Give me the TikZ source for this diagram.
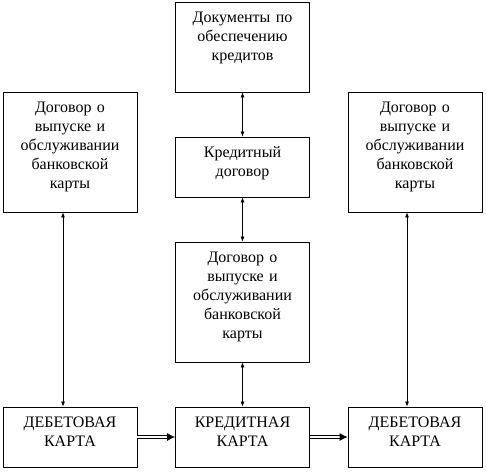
\documentclass[tikz,border=0pt]{standalone}
\usepackage{fontspec}
\setmainfont{Liberation Serif}
\newfontfamily\boxfont{Liberation Serif}
\usetikzlibrary{arrows.meta}
\tikzset{
    box/.style={draw, line width=0.8pt, minimum width=134pt, inner sep=0pt},
    txt/.style={anchor=north, align=center, text width=132pt, inner sep=0pt,
    	yshift=-10pt, font=\boxfont\fontsize{16}{19}\selectfont}
}
\tikzset{
    link/.style={line width=0.7pt, {Latex[length=5pt,width=4pt]}-{Latex[length=5pt,width=4pt]}},
    dbl/.style={double, double distance=2.2pt, line width=0.8pt,
    	-{Latex[length=8pt,width=8pt]}}
}

\begin{document}
\begin{tikzpicture}[x=1pt, y=-1pt]
  \useasboundingbox (0,0) rectangle (486,471);

  \node (doc) [box, minimum height=90pt, label={[txt]north:Документы по\\обеспечению\\кредитов}] at (242.5, 47) {};
  \node (kd) [box, minimum height=60pt, label={[txt]north:Кредитный\\договор}] at (242.5, 167) {};
  \node (cdog) [box, minimum height=120pt, label={[txt]north:Договор о\\выпуске и\\обслуживании\\банковской\\карты}] at (242.5, 302) {};
  \node (kk) [box, minimum height=60pt, label={[txt]north:КРЕДИТНАЯ\\КАРТА}] at (242.5, 437) {};

  \node (ldog) [box, minimum height=120pt, label={[txt]north:Договор о\\выпуске и\\обслуживании\\банковской\\карты}] at (70, 152) {};
  \node (ldeb) [box, minimum height=60pt, label={[txt]north:ДЕБЕТОВАЯ\\КАРТА}] at (70, 437) {};

  \node (rdog) [box, minimum height=120pt, label={[txt]north:Договор о\\выпуске и\\обслуживании\\банковской\\карты}] at (415, 152) {};
  \node (rdeb) [box, minimum height=60pt, label={[txt]north:ДЕБЕТОВАЯ\\КАРТА}] at (415, 437) {};

  \draw (doc) edge[link] (kd); \draw (kd) edge[link] (cdog);
  \draw (cdog) edge[link] (kk);
  \draw ([xshift=-7pt]ldog.south) edge[link] ([xshift=-7pt]ldeb.north);
  \draw ([xshift=-8pt]rdog.south) edge[link] ([xshift=-8pt]rdeb.north);
  \draw (ldeb) edge[dbl] (kk); \draw (kk) edge[dbl] (rdeb);
\end{tikzpicture}
\end{document}
